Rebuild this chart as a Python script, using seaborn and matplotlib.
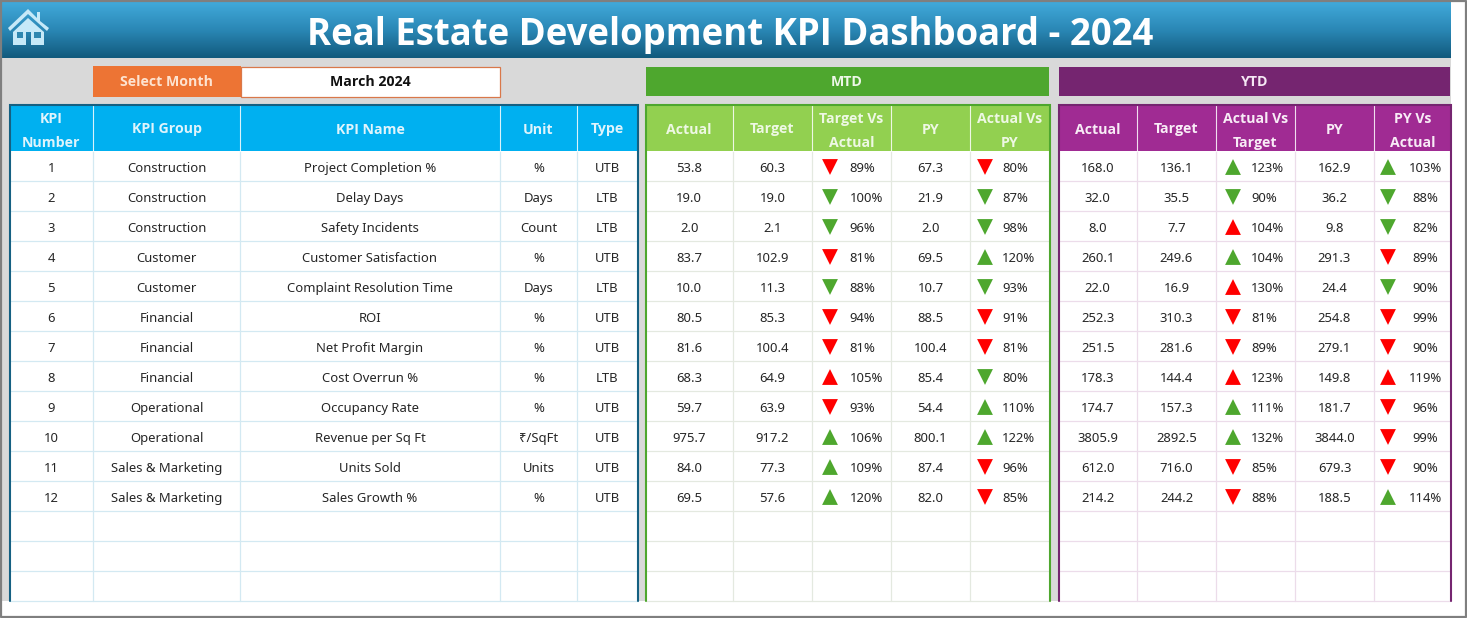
import matplotlib
matplotlib.use("Agg")
import matplotlib.pyplot as plt
from matplotlib.patches import Rectangle, Polygon
import numpy as np
import pandas as pd
import seaborn as sns

sns.set_theme(style="white")
plt.rcParams['font.family'] = ['Noto Sans', 'DejaVu Sans']
BOLD_FONT = ['Open Sans', 'DejaVu Sans']

# Table values
kpi_number = [1, 2, 3, 4, 5, 6, 7, 8, 9, 10, 11, 12]
kpi_group = ['Construction', 'Construction', 'Construction', 'Customer', 'Customer', 'Financial',
             'Financial', 'Financial', 'Operational', 'Operational', 'Sales & Marketing', 'Sales & Marketing']
kpi_name = ['Project Completion %', 'Delay Days', 'Safety Incidents', 'Customer Satisfaction',
            'Complaint Resolution Time', 'ROI', 'Net Profit Margin', 'Cost Overrun %',
            'Occupancy Rate', 'Revenue per Sq Ft', 'Units Sold', 'Sales Growth %']
unit = ['%', 'Days', 'Count', '%', 'Days', '%', '%', '%', '%', '₹/SqFt', 'Units', '%']
kpi_type = ['UTB', 'LTB', 'LTB', 'UTB', 'LTB', 'UTB', 'UTB', 'LTB', 'UTB', 'UTB', 'UTB', 'UTB']

mtd_actual = [53.8, 19.0, 2.0, 83.7, 10.0, 80.5, 81.6, 68.3, 59.7, 975.7, 84.0, 69.5]
mtd_target = [60.3, 19.0, 2.1, 102.9, 11.3, 85.3, 100.4, 64.9, 63.9, 917.2, 77.3, 57.6]
mtd_vs_target = [89, 100, 96, 81, 88, 94, 81, 105, 93, 106, 109, 120]
mtd_py = [67.3, 21.9, 2.0, 69.5, 10.7, 88.5, 100.4, 85.4, 54.4, 800.1, 87.4, 82.0]
mtd_vs_py = [80, 87, 98, 120, 93, 91, 81, 80, 110, 122, 96, 85]

ytd_actual = [168.0, 32.0, 8.0, 260.1, 22.0, 252.3, 251.5, 178.3, 174.7, 3805.9, 612.0, 214.2]
ytd_target = [136.1, 35.5, 7.7, 249.6, 16.9, 310.3, 281.6, 144.4, 157.3, 2892.5, 716.0, 244.2]
ytd_vs_target = [123, 90, 104, 104, 130, 81, 89, 123, 111, 132, 85, 88]
ytd_py = [162.9, 36.2, 9.8, 291.3, 24.4, 254.8, 279.1, 149.8, 181.7, 3844.0, 679.3, 188.5]
ytd_vs_py = [103, 88, 82, 89, 90, 99, 90, 119, 96, 99, 90, 114]

info_headers = ['KPI\nNumber', 'KPI Group', 'KPI Name', 'Unit', 'Type']
mtd_headers = ['Actual', 'Target', 'Target Vs\nActual', 'PY', 'Actual Vs\nPY']
ytd_headers = ['Actual', 'Target', 'Actual Vs\nTarget', 'PY', 'PY Vs\nActual']

# Layout, all in image pixels
info_cols = [9.5, 93, 240, 500, 577, 638]
mtd_cols = [645.5, 733, 812, 891, 970, 1049.5]
ytd_cols = [1058.5, 1137, 1216, 1295, 1374, 1450.5]
header_top, header_bottom = 105, 151
row_h = 30
table_bottom = 601
n_lines = 15

BODY = 9.4
HEAD = 10.2

fig = plt.figure(figsize=(14.67, 6.18), dpi=100)
ax = fig.add_axes([0, 0, 1, 1])
ax.set_xlim(0, 1467)
ax.set_ylim(618, 0)
ax.axis('off')


def box(x0, y0, x1, y1, color, z=1, **kw):
    ax.add_patch(Rectangle((x0, y0), x1 - x0, y1 - y0, facecolor=color, edgecolor='none', zorder=z, **kw))


def bold_text(x, y, s, color, size=HEAD, **kw):
    ax.text(x, y, s, color=color, fontsize=size, fontweight='bold', family=BOLD_FONT,
            ha='center', va='center_baseline', zorder=4, **kw)


# page
box(0, 0, 1467, 618, '#ffffff', z=0)
box(0, 58, 1451, 601, '#d9d9d9', z=0.5)
ax.plot([1, 1466, 1466, 1, 1], [1, 1, 617, 617, 1], color='#7f7f7f', lw=1.6, zorder=20)

# title band
grad = np.linspace(0, 1, 60).reshape(-1, 1)
band = sns.blend_palette(['#41a9da', '#2a87b5', '#125a7d'], 60, as_cmap=True)
ax.imshow(grad, extent=(2, 1451, 58, 2), cmap=band, aspect='auto', zorder=1)
ax.set_xlim(0, 1467)
ax.set_ylim(618, 0)
bold_text(730, 30, 'Real Estate Development KPI Dashboard - 2024', 'white', size=26.3)

# house icon
icon = '#c6e9f8'
ax.add_patch(Polygon([(8, 28), (28, 9), (37, 18), (37, 12), (40, 12), (40, 21), (49, 28), (47, 31), (28, 14), (10, 31)],
                     facecolor=icon, edgecolor='none', zorder=3))
ax.add_patch(Polygon([(13, 32), (28, 18), (44, 32), (44, 45), (31, 45), (31, 32), (26, 32), (26, 45), (13, 45)],
                     facecolor=icon, edgecolor='none', zorder=3))
box(17, 32, 23, 38, '#2f87b0', z=4)
box(34, 32, 41, 38, '#2f87b0', z=4)

# selector + section banners
box(93, 66, 241, 97, '#ed7434', z=2)
ax.add_patch(Rectangle((241, 66.5), 258.5, 30, facecolor='white', edgecolor='#d9784a', lw=0.9, zorder=2))
bold_text(167, 81, 'Select Month', '#fde3d0')
bold_text(370, 81, 'March 2024', '#111111')
box(646, 67, 1049, 96, '#4ea72e', z=2)
bold_text(847, 80.5, 'MTD', '#eef7e8')
box(1059, 67, 1450, 96, '#752570', z=2)
bold_text(1255, 80.5, 'YTD', '#f5e8f4')


def draw_table(cols, headers, head_color, grid_color, frame_color, head_text):
    x0, x1 = cols[0], cols[-1]
    box(x0, header_top, x1, table_bottom, 'white', z=1)
    box(x0, header_top, x1, header_bottom, head_color, z=2)
    for x in cols[1:-1]:
        ax.plot([x, x], [header_top, header_bottom], color='#ffffff', lw=0.8, alpha=0.85, zorder=3)
        ax.plot([x, x], [header_bottom, table_bottom], color=grid_color, lw=0.9, zorder=2)
    for i in range(1, n_lines + 1):
        y = header_bottom + row_h * i
        ax.plot([x0, x1], [y, y], color=grid_color, lw=0.9, zorder=2)
    for i, h in enumerate(headers):
        y = 124.5 if '\n' in h else 128
        bold_text((cols[i] + cols[i + 1]) / 2, y, h, head_text, linespacing=1.87)
    ax.plot([x0, x0, x1, x1], [table_bottom, header_top, header_top, table_bottom],
            color=frame_color, lw=1.5, zorder=5, solid_joinstyle='miter')


draw_table(info_cols, info_headers, '#00b0f0', '#d3e9f2', '#156082', '#dff4fc')
draw_table(mtd_cols, mtd_headers, '#92d050', '#e4e9e0', '#4ea72e', '#eef8e4')
draw_table(ytd_cols, ytd_headers, '#a02b93', '#ecdcea', '#752570', '#f8ecf6')


def row_y(i):
    return header_bottom + row_h * (i + 0.5)


def col_x(cols, i):
    return (cols[i] + cols[i + 1]) / 2


def cell(x, y, s, ha='center'):
    ax.text(x, y + 1, s, color='#262626', fontsize=BODY, ha=ha, va='center_baseline', zorder=4)


# left table body
for i in range(len(kpi_number)):
    y = row_y(i)
    for c, values in enumerate([kpi_number, kpi_group, kpi_name, unit, kpi_type]):
        cell(col_x(info_cols, c), y, str(values[i]))

# number + percentage columns, triangles collected for seaborn
marks = []


def fill_numbers(cols, col_i, values):
    for i, v in enumerate(values):
        cell(col_x(cols, col_i), row_y(i), f'{v:.1f}')


def fill_pct(cols, col_i, values, icon_dx, text_dx, ha):
    for i, v in enumerate(values):
        cell(cols[col_i] + text_dx, row_y(i), f'{v}%', ha=ha)
        good = v >= 100 if kpi_type[i] == 'UTB' else v <= 100
        marks.append({'x': cols[col_i] + icon_dx, 'y': row_y(i) + 1,
                      'direction': 'up' if v > 100 else 'down',
                      'status': 'good' if good else 'bad'})


fill_numbers(mtd_cols, 0, mtd_actual)
fill_numbers(mtd_cols, 1, mtd_target)
fill_pct(mtd_cols, 2, mtd_vs_target, 18, 37.5, 'left')
fill_numbers(mtd_cols, 3, mtd_py)
fill_pct(mtd_cols, 4, mtd_vs_py, 15, 32, 'left')

fill_numbers(ytd_cols, 0, ytd_actual)
fill_numbers(ytd_cols, 1, ytd_target)
fill_pct(ytd_cols, 2, ytd_vs_target, 17, 35, 'left')
fill_numbers(ytd_cols, 3, ytd_py)
fill_pct(ytd_cols, 4, ytd_vs_py, 14, 51.5, 'center')

marks = pd.DataFrame(marks)
sns.scatterplot(data=marks, x='x', y='y', hue='status', style='direction',
                hue_order=['good', 'bad'], palette={'good': '#4ea72e', 'bad': '#ff0000'},
                markers={'up': '^', 'down': 'v'}, s=130, linewidth=0, legend=False, ax=ax, zorder=6)
ax.set_xlim(0, 1467)
ax.set_ylim(618, 0)
ax.axis('off')

fig.savefig('out.png', dpi=100)
